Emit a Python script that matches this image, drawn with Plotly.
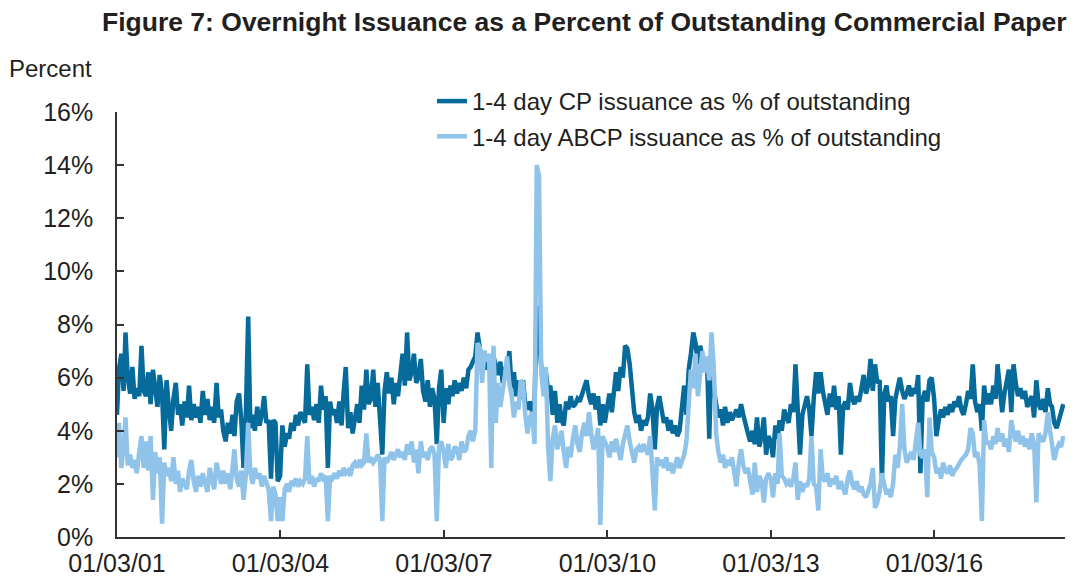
import pandas as pd
import plotly.graph_objects as go

# Semi-monthly readings (1st and 16th of each month), Jan 2001 - May 2018, in percent
cp_pct = [
    4.6, 6.3, 6.9, 5.5, 7.7, 6.0, 5.4, 6.4, 5.2, 5.6, 5.3, 7.2, 5.5, 5.3, 6.2, 5.0, 6.3, 5.4, 4.9, 6.1, 5.4, 3.3, 5.9, 4.9,  # 2001
    4.0, 5.2, 5.8, 4.6, 5.0, 4.2, 5.1, 4.5, 5.7, 4.4, 5.0, 4.5, 4.9, 4.3, 5.5, 4.6, 5.2, 4.4, 4.9, 4.3, 5.8, 4.5, 4.8, 4.0,  # 2002
    3.6, 4.3, 3.9, 4.6, 3.8, 5.1, 5.4, 4.4, 2.6, 4.5, 8.3, 4.1, 4.6, 4.0, 4.9, 4.2, 4.6, 5.3, 4.3, 4.4, 2.2, 4.4, 4.3, 2.1,  # 2003
    2.3, 4.2, 3.4, 3.9, 3.7, 4.3, 4.0, 4.6, 4.2, 4.7, 4.5, 4.3, 6.5, 4.6, 4.9, 4.4, 5.0, 4.3, 5.7, 4.8, 5.3, 2.6, 5.1, 4.6,  # 2004
    4.8, 4.3, 5.1, 4.2, 5.4, 6.4, 4.1, 4.7, 3.9, 4.5, 5.0, 4.3, 5.7, 4.8, 6.3, 5.0, 5.2, 6.3, 4.9, 5.8, 4.6, 3.1, 5.5, 6.2,  # 2005
    5.4, 6.0, 5.0, 5.8, 5.3, 6.1, 6.9, 5.7, 7.7, 5.9, 6.2, 6.9, 5.8, 6.0, 6.7, 5.5, 5.1, 5.9, 4.9, 5.6, 5.2, 3.5, 5.6, 6.3,  # 2006
    4.3, 5.6, 5.0, 5.7, 5.3, 5.9, 5.4, 5.8, 5.5, 6.0, 5.6, 6.3, 6.4, 6.6, 6.8, 7.7, 7.1, 6.5, 7.0, 6.3, 6.6, 6.3, 6.8, 6.4,  # 2007
    6.1, 6.6, 5.8, 6.4, 6.0, 7.0, 5.6, 6.2, 5.3, 5.9, 5.2, 5.9, 5.0, 4.8, 5.1, 4.7, 5.0, 8.7, 7.5, 6.4, 5.8, 6.2, 5.5, 5.7,  # 2008
    4.6, 5.5, 4.3, 5.0, 4.4, 4.2, 5.1, 4.8, 5.3, 4.9, 5.0, 5.2, 5.1, 5.4, 5.6, 5.9, 5.3, 5.0, 5.4, 4.8, 5.3, 4.2, 5.0, 4.3,  # 2009
    4.9, 5.4, 4.7, 5.6, 6.2, 5.5, 6.4, 6.0, 7.2, 7.1, 6.5, 5.6, 4.7, 4.3, 4.6, 4.0, 4.4, 4.2, 4.5, 5.4, 4.8, 3.3, 4.9, 5.3,  # 2010
    4.7, 4.3, 4.5, 4.0, 4.4, 3.9, 4.2, 3.8, 4.0, 4.9, 5.7, 4.6, 6.3, 6.9, 7.7, 7.3, 6.5, 7.2, 6.6, 6.3, 6.7, 3.7, 6.8, 5.6,  # 2011
    5.0, 4.5, 4.8, 4.2, 4.9, 4.3, 4.7, 4.4, 4.6, 4.8, 4.5, 5.0, 4.6, 4.2, 3.9, 3.6, 4.0, 3.5, 4.5, 3.4, 3.8, 4.5, 3.1, 3.8,  # 2012
    3.6, 3.0, 4.2, 3.7, 4.4, 4.0, 4.8, 4.5, 4.3, 5.0, 4.7, 6.5, 4.9, 3.1, 4.6, 5.0, 5.3, 4.8, 3.8, 5.2, 6.2, 5.4, 6.2, 5.5,  # 2013
    5.1, 4.6, 5.4, 4.9, 5.7, 4.8, 5.3, 3.1, 4.9, 5.1, 4.8, 5.8, 5.2, 5.0, 5.3, 5.1, 5.6, 6.1, 5.4, 5.7, 6.7, 5.5, 6.5, 5.8,  # 2014
    5.9, 2.1, 5.4, 5.7, 5.1, 5.3, 3.8, 5.2, 5.6, 6.0, 5.5, 5.2, 5.4, 5.7, 5.3, 5.6, 5.4, 6.1, 2.4, 5.2, 5.5, 5.1, 5.9, 6.0,  # 2015
    5.2, 3.8, 4.4, 4.8, 4.5, 4.9, 4.6, 5.0, 4.7, 5.1, 4.9, 5.3, 4.8, 4.6, 5.0, 5.5, 5.2, 6.5, 5.1, 4.7, 5.0, 4.0, 5.7, 5.0,  # 2016
    5.4, 5.0, 5.7, 5.2, 6.5, 5.5, 4.7, 5.4, 5.8, 6.3, 4.7, 6.5, 5.8, 5.3, 5.6, 5.2, 5.5, 4.9, 5.1, 5.3, 4.5, 5.9, 5.0, 4.8,  # 2017
    5.2, 4.7, 5.6, 5.0, 4.9, 4.3, 4.1, 4.4, 4.6, 5.0,                                                                      # 2018
]

abcp_pct = [
    3.0, 4.3, 2.6, 3.4, 4.5, 2.7, 3.1, 2.6, 2.9, 2.4, 3.2, 3.8, 2.6, 3.6, 2.5, 3.8, 1.4, 3.2, 2.4, 3.0, 0.5, 2.8, 2.3, 2.6,  # 2001
    2.1, 3.0, 2.0, 2.5, 1.7, 2.2, 2.0, 1.8, 2.5, 2.9, 2.1, 1.7, 2.3, 1.9, 2.4, 2.0, 1.7, 2.6, 2.2, 1.8, 2.8, 2.3, 2.0, 2.5,  # 2002
    2.0, 2.4, 1.8, 2.6, 3.3, 2.2, 1.9, 2.5, 1.4, 2.3, 4.3, 2.4, 2.0, 2.6, 2.2, 2.4, 1.9, 2.3, 2.1, 1.8, 0.6, 1.9, 1.6, 0.6,  # 2003
    1.5, 0.6, 1.8, 2.0, 1.7, 2.1, 2.0, 2.2, 1.9, 2.1, 2.0, 2.2, 3.8, 2.0, 2.3, 1.9, 2.2, 2.1, 2.4, 2.2, 2.3, 0.6, 2.3, 2.2,  # 2004
    2.4, 2.2, 2.5, 2.3, 2.6, 2.4, 2.5, 2.3, 2.7, 2.8, 2.6, 2.9, 2.7, 2.8, 3.9, 2.8, 3.0, 2.8, 2.9, 3.1, 2.9, 0.6, 3.0, 2.8,  # 2005
    3.0, 3.2, 2.9, 3.1, 3.3, 3.0, 3.2, 2.9, 3.5, 3.1, 3.6, 2.8, 3.3, 2.4, 3.6, 3.0, 3.2, 2.9, 3.3, 3.4, 3.1, 0.6, 3.4, 3.6,  # 2006
    3.2, 2.6, 3.5, 2.9, 3.0, 3.4, 3.3, 2.9, 3.6, 3.2, 3.3, 3.8, 4.0, 3.6, 4.0, 7.3, 7.1, 5.8, 7.0, 6.6, 6.9, 2.6, 7.2, 4.3,  # 2007
    5.8, 4.9, 5.4, 6.1, 6.8, 5.8, 5.3, 4.5, 5.1, 4.8, 5.9, 5.8, 4.6, 3.9, 4.5, 4.7, 3.5, 14.0, 13.6, 6.2, 5.3, 6.4, 3.4, 2.1,  # 2008
    3.7, 4.2, 3.3, 3.6, 4.0, 3.2, 2.6, 3.4, 3.0, 3.7, 4.2, 3.5, 3.2, 3.9, 4.3, 3.8, 4.7, 3.9, 3.3, 3.6, 4.1, 0.45, 3.8, 3.6,  # 2009
    3.4, 3.0, 3.6, 3.2, 3.7, 3.3, 2.9, 3.5, 3.8, 4.2, 3.6, 3.1, 2.8, 3.3, 3.4, 3.2, 3.5, 3.3, 3.1, 3.8, 2.6, 1.0, 3.0, 2.7,  # 2010
    2.9, 2.6, 3.0, 2.5, 2.8, 2.4, 2.7, 3.0, 2.6, 2.9, 3.1, 3.6, 5.1, 6.3, 5.6, 6.9, 5.3, 6.1, 7.0, 6.2, 6.8, 5.9, 7.7, 6.4,  # 2011
    3.9, 3.2, 2.8, 3.1, 2.6, 2.9, 2.7, 3.0, 2.5, 1.9, 2.8, 3.3, 2.7, 2.4, 2.6, 2.0, 1.6, 2.8, 1.7, 2.3, 2.1, 1.3, 2.2, 2.4,  # 2012
    2.2, 1.5, 2.4, 2.0, 3.9, 2.3, 2.2, 2.0, 2.1, 1.9, 2.2, 2.8, 1.4, 2.1, 1.7, 2.0, 1.9, 2.2, 3.8, 2.0, 1.9, 1.0, 3.3, 2.2,  # 2013
    2.1, 2.4, 1.9, 2.2, 2.0, 2.3, 1.8, 2.1, 1.9, 1.6, 2.2, 2.5, 2.0, 1.8, 2.1, 1.7, 1.9, 1.6, 1.5, 1.8, 2.0, 2.6, 1.1, 1.3,  # 2014
    1.7, 2.4, 1.9, 1.6, 1.8, 1.5, 2.0, 3.1, 2.6, 3.4, 5.0, 3.3, 2.8, 3.0, 3.2, 2.9, 3.5, 4.3, 3.1, 3.0, 3.3, 1.5, 4.5, 3.2,  # 2015
    3.0, 2.4, 2.6, 2.2, 2.8, 2.5, 2.4, 2.7, 2.3, 2.5, 2.6, 2.8, 2.9, 3.0, 3.1, 3.3, 4.1, 3.9, 3.0, 3.2, 2.7, 0.6, 4.4, 3.5,  # 2016
    3.6, 3.3, 3.8, 3.5, 4.1, 3.6, 3.9, 3.4, 3.7, 3.2, 4.4, 3.9, 3.6, 4.0, 3.5, 3.8, 3.4, 3.7, 3.3, 3.9, 3.5, 1.3, 3.9, 3.7,  # 2017
    3.6, 3.9, 4.7, 4.0, 3.4, 2.9, 3.3, 3.5, 3.4, 3.8,                                                                      # 2018
]

series_names = ["1-4 day CP issuance as % of outstanding",
                "1-4 day ABCP issuance as % of outstanding"]
x_tick_dates = ["2001-01-03", "2004-01-03", "2007-01-03", "2010-01-03", "2013-01-03", "2016-01-03"]
x_tick_labels = ["01/03/01", "01/03/04", "01/03/07", "01/03/10", "01/03/13", "01/03/16"]
y_tick_vals = [0, 2, 4, 6, 8, 10, 12, 14, 16]
y_tick_labels = ["0%", "2%", "4%", "6%", "8%", "10%", "12%", "14%", "16%"]

# observation dates: 1st and 16th of each month (first one on Jan 3, 2001)
dates = []
for yr in range(2001, 2019):
    for mo in range(1, 13):
        for dy in (1, 16):
            dates.append(pd.Timestamp(yr, mo, dy))
dates[0] = pd.Timestamp(2001, 1, 3)
dates_cp = dates[:len(cp_pct)]
dates_abcp = dates[:len(abcp_pct)]

DARK = "#066a9b"
LIGHT = "#90c3ea"
TEXT = "#231f20"
FONT = "Liberation Sans, Arial, sans-serif"

L, R, T, B = 117, 9, 112, 43
PW, PH = 1074 - L - R, 580 - T - B

fig = go.Figure()
fig.add_trace(go.Scatter(x=dates_cp, y=cp_pct, mode="lines", name=series_names[0],
                         line=dict(color=DARK, width=4.5), legendgroup="a"))
fig.add_trace(go.Scatter(x=dates_abcp, y=abcp_pct, mode="lines", name=series_names[1],
                         line=dict(color=LIGHT, width=4.5), legendgroup="b"))

fig.update_layout(
    width=1074, height=580,
    margin=dict(l=L, r=R, t=T, b=B, autoexpand=False),
    paper_bgcolor="white", plot_bgcolor="white",
    font=dict(family=FONT, size=24, color=TEXT),
    showlegend=True,
    legend=dict(x=(432 - L) / PW, xanchor="left", y=1 + (T - 79) / PH, yanchor="top",
                bgcolor="rgba(0,0,0,0)", font=dict(size=24, color=TEXT),
                tracegroupgap=1, traceorder="grouped"),
    annotations=[
        dict(text="<b>Figure 7: Overnight Issuance as a Percent of Outstanding Commercial Paper</b>",
             xref="paper", yref="paper", x=(1069 - L) / PW, y=1 + (T - 22) / PH,
             xanchor="right", yanchor="middle", showarrow=False,
             font=dict(family=FONT, size=26.5, color=TEXT)),
        dict(text="Percent", xref="paper", yref="paper",
             x=(7 - L) / PW, y=1 + (T - 68) / PH,
             xanchor="left", yanchor="middle", showarrow=False,
             font=dict(size=24, color=TEXT)),
    ],
)

fig.update_xaxes(
    type="date", range=["2001-01-03", "2018-05-27"],
    tickmode="array", tickvals=x_tick_dates, ticktext=x_tick_labels,
    ticks="inside", ticklen=7, tickwidth=1.5, tickcolor="#333",
    showline=True, linecolor="#333", linewidth=1.5,
    showgrid=False, zeroline=False, ticklabelstandoff=3,
    tickfont=dict(size=25, color=TEXT),
)
fig.update_yaxes(
    range=[0, 16], tickmode="array", tickvals=y_tick_vals, ticktext=y_tick_labels,
    ticks="inside", ticklen=7, tickwidth=1.5, tickcolor="#333",
    showline=True, linecolor="#333", linewidth=1.5,
    showgrid=False, zeroline=False, ticklabelstandoff=17,
    tickfont=dict(size=25, color=TEXT),
)

# remove the browser's default 8px page margin so the figure sits at the window origin
fig.write_html("out.html", config={"displayModeBar": False},
               post_script="document.body.style.margin='0';")
